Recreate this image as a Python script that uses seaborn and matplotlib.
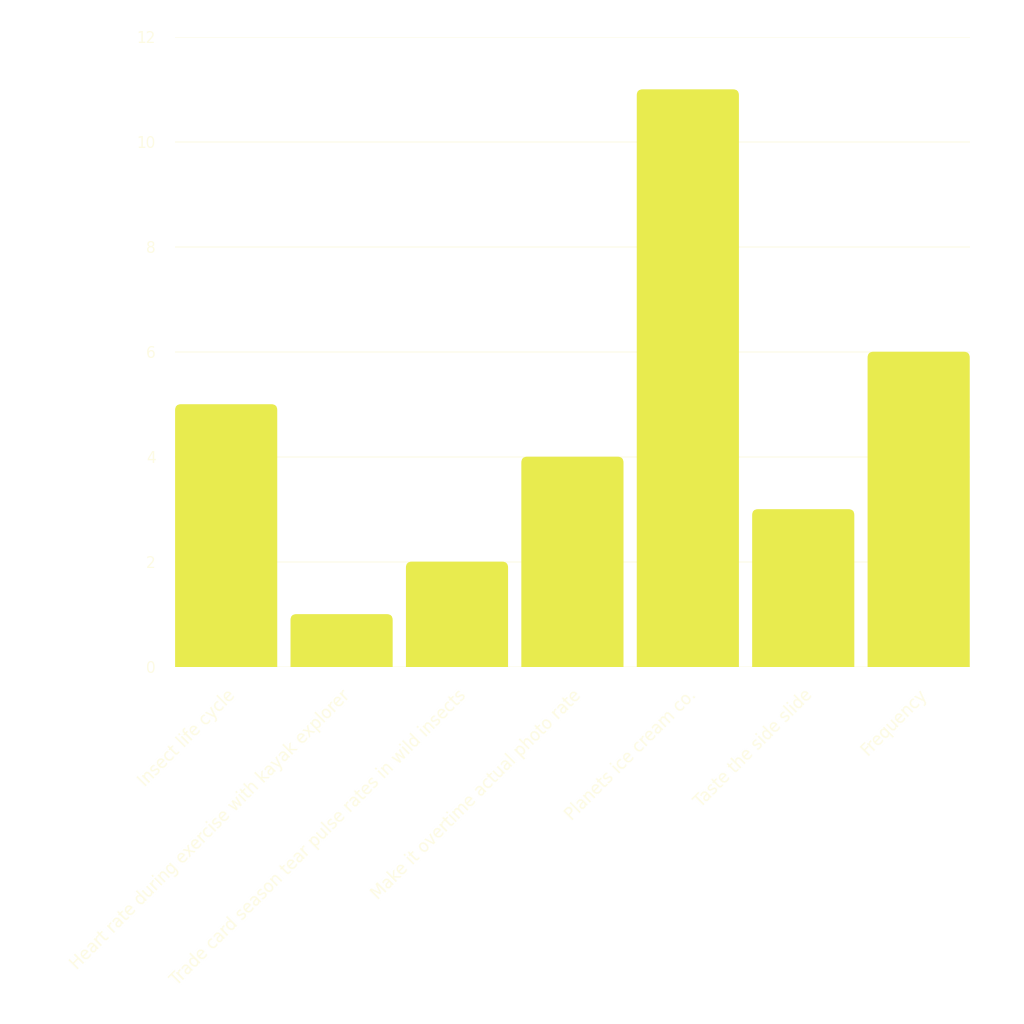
import matplotlib
matplotlib.use("Agg")
import matplotlib.pyplot as plt
import seaborn as sns
from matplotlib.patches import FancyBboxPatch

# data
categories = [
    "Insect life cycle",
    "Heart rate during exercise with kayak explorer",
    "Trade card season tear pulse rates in wild insects",
    "Make it overtime actual photo rate",
    "Planets ice cream co.",
    "Taste the side slide",
    "Frequency",
]
values = [5, 1, 2, 4, 11, 3, 6]
y_ticks = [0, 2, 4, 6, 8, 10, 12]

bar_color = "#e8eb4f"
text_color = "#fdfbe3"
grid_color = "#fdfcee"

sns.set_style("white")
fig = plt.figure(figsize=(10.24, 10.24), dpi=100)
ax = fig.add_axes([0.171, 0.349, 0.776, 0.615])

sns.barplot(x=categories, y=values, color=bar_color, width=0.885,
            saturation=1, ax=ax, zorder=2)

# round the top corners a little (bottom goes below 0 and is clipped)
for p in list(ax.patches):
    x, y = p.get_x(), p.get_y()
    w, h = p.get_width(), p.get_height()
    p.remove()
    rp = FancyBboxPatch((x, y - 0.3), w, h + 0.3,
                        boxstyle="round,pad=0,rounding_size=0.05",
                        mutation_aspect=2.2,
                        facecolor=bar_color, edgecolor="none", zorder=2)
    ax.add_patch(rp)

ax.set_ylim(0, 12)
ax.set_xlim(-0.4425, 6.4425)
ax.set_yticks(y_ticks)
ax.set_yticklabels([str(v) for v in y_ticks], color=text_color, fontsize=11)
ax.yaxis.grid(True, color=grid_color, linewidth=1.2, zorder=0)
ax.set_axisbelow(True)
ax.set_xlabel("")
ax.set_ylabel("")

ax.set_xticks(range(len(categories)))
ax.set_xticklabels(categories, rotation=45, ha="right", rotation_mode="anchor",
                   color=text_color, fontsize=12)
ax.tick_params(axis="both", length=0, pad=14)

for s in ax.spines.values():
    s.set_visible(False)

fig.savefig("out.png", dpi=100, facecolor="white")
